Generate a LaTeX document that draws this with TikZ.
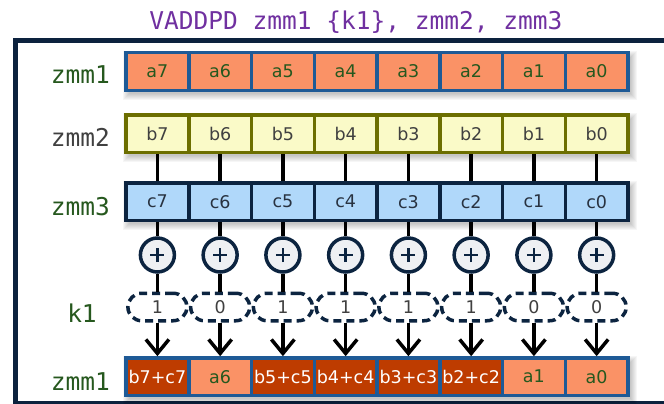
\documentclass[tikz,border=0pt]{standalone}
\usepackage{fontspec}
\setmainfont{DejaVu Sans}
\newfontfamily\monofont{DejaVu Sans Mono}
\usetikzlibrary{arrows.meta}

\definecolor{framenavy}{RGB}{12,34,62}
\definecolor{titlepurple}{RGB}{112,48,160}
\definecolor{lblgreen}{RGB}{38,88,30}
\definecolor{lblgray}{RGB}{64,64,64}
\definecolor{afill}{RGB}{250,146,102}
\definecolor{aborder}{RGB}{30,90,150}
\definecolor{bfill}{RGB}{250,250,200}
\definecolor{bborder}{RGB}{108,110,0}
\definecolor{cfill}{RGB}{176,216,250}
\definecolor{cborder}{RGB}{12,36,64}
\definecolor{rfill}{RGB}{190,60,0}
\definecolor{addfill}{RGB}{238,240,243}

\tikzset{
  cellbase/.style={rectangle, draw, line width=3.5pt, inner sep=0pt,
    minimum width=62.75pt, minimum height=37.5pt,
    font=\fontsize{17.5}{20}\selectfont},
  acell/.style={cellbase, draw=aborder, fill=afill, text=lblgreen},
  bcell/.style={cellbase, draw=bborder, fill=bfill, text=lblgray},
  ccell/.style={cellbase, draw=cborder, fill=cfill, text={rgb,255:red,40;green,50;blue,64}},
  rcell/.style={cellbase, draw=aborder, fill=rfill, text=white},
  reglabel/.style={font=\monofont\fontsize{24.5}{29}\selectfont, text=lblgreen, inner sep=0pt},
  addnode/.style={circle, draw=cborder, fill=addfill, line width=3.5pt,
    minimum size=34pt, inner sep=0pt,
    path picture={\draw[cborder, line width=2.6pt]
      ([xshift=-7pt]path picture bounding box.center) -- ([xshift=7pt]path picture bounding box.center)
      ([yshift=-7pt]path picture bounding box.center) -- ([yshift=7pt]path picture bounding box.center);}},
  maskpill/.style={rectangle, rounded corners=13.75pt, draw=cborder, fill=white,
    line width=3.5pt, dash pattern=on 8pt off 5pt, minimum width=59pt,
    minimum height=27.5pt, inner sep=0pt, text=lblgray,
    font=\fontsize{17.5}{20}\selectfont},
  wire/.style={line width=3.5pt, black},
  maskarrow/.style={line width=3.5pt, black,
    -{Straight Barb[length=14pt, width=23pt, line width=3.5pt]}},
}

% soft shadow under a register row centred at height #1
\newcommand\rowshade[1]{%
  \foreach \e in {0,...,6}{%
    \fill[black, opacity=0.035]
      ({129-\e},{#1-14.75-\e}) rectangle ({631+\e},{#1+22.75+\e});}}

\begin{document}
\begin{tikzpicture}[x=1pt, y=-1pt]
\useasboundingbox (0,0) rectangle (664,404);

% outer frame, running off the right and bottom edges
\begin{scope}
  \clip (0,0) rectangle (664,404);
  \draw[framenavy, line width=5pt] (15.5,41) rectangle (700,403);
\end{scope}

% instruction
\node[font=\monofont\fontsize{24.5}{29}\selectfont, text=titlepurple,
      anchor=base, inner sep=0pt] (title) at (356,29.3)
      {VADDPD zmm1 \{k1\}, zmm2, zmm3};

% shadows behind the registers
\rowshade{71.5}
\rowshade{133.5}
\rowshade{201.7}
\rowshade{376.7}

% register labels
\node[reglabel, anchor=base east] (lz1) at (110,84) {zmm1};
\node[reglabel, anchor=base east, text=lblgray] (lz2) at (110,146.7) {zmm2};
\node[reglabel, anchor=base east] (lz3) at (110,215) {zmm3};
\node[reglabel, anchor=base] (lk1) at (82,322) {k1};
\node[reglabel, anchor=base east] (lz1r) at (110,390) {zmm1};

% lanes, element 7 on the left
\foreach \j/\m [count=\i from 0] in {7/1,6/0,5/1,4/1,3/1,2/1,1/0,0/0}{
  \pgfmathsetmacro\xc{157.4+62.75*\i}
  \node[acell] (a\j) at (\xc,71.5) {a\j};
  \node[bcell] (b\j) at (\xc,133.5) {b\j};
  \node[ccell] (c\j) at (\xc,201.7) {c\j};
  \node[addnode] (p\j) at (\xc,255) {};
  \node[maskpill] (k\j) at (\xc,307) {\m};
  \ifnum\m=1
    \node[rcell] (r\j) at (\xc,376.7) {b\j+c\j};
  \else
    \node[acell] (r\j) at (\xc,376.7) {a\j};
  \fi
}

% wiring
\foreach \j in {7,...,0}{
  \draw[wire] (b\j.south) -- (c\j.north);
  \draw[wire] (c\j.south) -- (p\j.north);
  \draw[wire] (p\j.south) -- (k\j.north);
  \draw[maskarrow] (k\j.south) -- (r\j.north);
}
\end{tikzpicture}
\end{document}
